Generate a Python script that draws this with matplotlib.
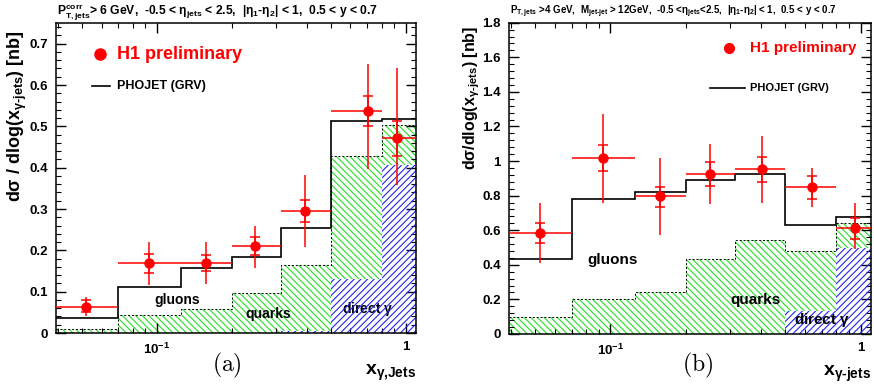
import numpy as np
import matplotlib
matplotlib.use('Agg')
import matplotlib.pyplot as plt
from matplotlib.ticker import MultipleLocator, LogLocator, NullFormatter

plt.rcParams['font.family'] = ['Liberation Sans', 'DejaVu Sans']
plt.rcParams['font.weight'] = 'bold'
plt.rcParams['mathtext.fontset'] = 'custom'
plt.rcParams['mathtext.rm'] = 'Liberation Sans:bold'
plt.rcParams['mathtext.it'] = 'Liberation Sans:bold'
plt.rcParams['mathtext.bf'] = 'Liberation Sans:bold'
plt.rcParams['mathtext.sf'] = 'Liberation Sans:bold'
plt.rcParams['hatch.linewidth'] = 0.8

# bin edges in x_gamma (same binning in both panels)
edges = [0.0394, 0.07, 0.125, 0.2, 0.315, 0.5, 0.8, 1.1]

# ---- panel (a) ----
a_phojet = [0.0355, 0.111, 0.157, 0.185, 0.254, 0.512, 0.519]
a_quarks = [0.009, 0.0436, 0.057, 0.096, 0.165, 0.428, 0.503]   # stacked top (quarks+direct)
a_direct = [0.0, 0.0, 0.0, 0.0, 0.005, 0.131, 0.407]
a_x = [0.0522, 0.093, 0.157, 0.249, 0.395, 0.706, 0.923]
a_y = [0.064, 0.169, 0.169, 0.211, 0.295, 0.537, 0.471]
a_stat_lo = [0.050, 0.146, 0.151, 0.188, 0.269, 0.500, 0.428]
a_stat_hi = [0.080, 0.190, 0.188, 0.232, 0.322, 0.574, 0.512]
a_tot_lo = [0.042, 0.115, 0.118, 0.158, 0.209, 0.397, 0.358]
a_tot_hi = [0.088, 0.221, 0.221, 0.260, 0.383, 0.650, 0.640]

# ---- panel (b) ----
b_phojet = [0.432, 0.779, 0.820, 0.891, 0.926, 0.631, 0.679]
b_quarks = [0.100, 0.204, 0.245, 0.434, 0.544, 0.482, 0.644]
b_direct = [0.0, 0.0, 0.0, 0.0, 0.0, 0.133, 0.500]
b_x = [0.0526, 0.0937, 0.158, 0.251, 0.402, 0.638, 0.953]
b_y = [0.586, 1.016, 0.795, 0.926, 0.953, 0.847, 0.612]
b_stat_lo = [0.525, 0.942, 0.736, 0.858, 0.881, 0.779, 0.550]
b_stat_hi = [0.640, 1.092, 0.852, 0.993, 1.026, 0.911, 0.670]
b_tot_lo = [0.410, 0.760, 0.573, 0.752, 0.760, 0.733, 0.490]
b_tot_hi = [0.760, 1.270, 1.016, 1.099, 1.146, 0.959, 0.760]

GREEN = '#22dd22'
BLUE = '#2222ee'
RED = '#ff0000'

fig = plt.figure(figsize=(8.74, 3.87), dpi=100)
axa = fig.add_axes([0.0641, 0.1395, 0.4119, 0.801])
axb = fig.add_axes([0.5824, 0.137, 0.4142, 0.8044])


def draw_panel(ax, phojet, quarks, direct, x, y, slo, shi, tlo, thi, ymax, ymaj, ymin):
    ax.set_xscale('log')
    ax.set_xlim(edges[0], edges[-1])
    ax.set_ylim(0, ymax)
    # quark (green) hatched area
    ax.stairs(quarks, edges, fill=True, facecolor='none', edgecolor=GREEN,
              hatch='\\\\\\\\\\', linewidth=0, zorder=1)
    ax.stairs(quarks, edges, baseline=None, color='black', linestyle=(0, (2, 2)),
              linewidth=0.7, zorder=2.5)
    # direct photon (blue) hatched area
    ax.stairs(direct, edges, fill=True, facecolor='white', edgecolor='white',
              linewidth=0, zorder=1.1)
    ax.stairs(direct, edges, fill=True, facecolor='none', edgecolor=BLUE,
              hatch='/////', linewidth=0, zorder=2)
    # PHOJET total
    ax.stairs(phojet, edges, baseline=None, color='black', linewidth=1.2, zorder=3)
    # data
    x = np.array(x)
    y = np.array(y)
    lo = np.array(edges[:-1])
    hi = np.array(edges[1:])
    ax.errorbar(x, y, xerr=[x - lo, hi - x], yerr=[y - np.array(tlo), np.array(thi) - y],
                fmt='o', color=RED, ecolor=RED, markersize=6.5, elinewidth=1.1,
                capsize=0, zorder=5)
    ax.errorbar(x, y, yerr=[y - np.array(slo), np.array(shi) - y], fmt='none',
                ecolor=RED, elinewidth=1.1, capsize=3.5, capthick=1.1, zorder=5)
    # ticks
    ax.yaxis.set_major_locator(MultipleLocator(ymaj))
    ax.yaxis.set_minor_locator(MultipleLocator(ymin))
    ax.xaxis.set_minor_locator(LogLocator(base=10, subs=np.arange(2, 10)))
    ax.xaxis.set_minor_formatter(NullFormatter())
    ax.set_xticks([0.1, 1])
    ax.set_xticklabels(['10$^{-1}$', '1'])
    ax.tick_params(which='both', direction='in', top=True, right=True)
    ax.tick_params(which='major', length=7, width=1, labelsize=9.5, pad=6)
    ax.tick_params(which='minor', length=3.5, width=0.8)
    for s in ax.spines.values():
        s.set_linewidth(1.1)


draw_panel(axa, a_phojet, a_quarks, a_direct, a_x, a_y, a_stat_lo, a_stat_hi,
           a_tot_lo, a_tot_hi, 0.75, 0.1, 0.02)
draw_panel(axb, b_phojet, b_quarks, b_direct, b_x, b_y, b_stat_lo, b_stat_hi,
           b_tot_lo, b_tot_hi, 1.8, 0.2, 0.04)
axa.set_yticks([0, 0.1, 0.2, 0.3, 0.4, 0.5, 0.6, 0.7])
axa.set_yticklabels(['0', '0.1', '0.2', '0.3', '0.4', '0.5', '0.6', '0.7'])
axb.set_yticks([0, 0.2, 0.4, 0.6, 0.8, 1.0, 1.2, 1.4, 1.6, 1.8])
axb.set_yticklabels(['0', '0.2', '0.4', '0.6', '0.8', '1', '1.2', '1.4', '1.6', '1.8'])

# legends
axa.plot([0.122], [0.9], 'o', color=RED, markersize=8, transform=axa.transAxes)
axa.text(0.169, 0.9, 'H1 preliminary', color=RED, fontsize=13, va='center',
         transform=axa.transAxes)
axa.plot([0.1, 0.15], [0.797, 0.797], color='black', lw=1.2, transform=axa.transAxes)
axa.text(0.169, 0.797, 'PHOJET (GRV)', color='black', fontsize=9, va='center',
         transform=axa.transAxes)

axb.plot([0.608], [0.919], 'o', color=RED, markersize=7, transform=axb.transAxes)
axb.text(0.666, 0.919, 'H1 preliminary', color=RED, fontsize=11, va='center',
         transform=axb.transAxes)
axb.plot([0.555, 0.652], [0.791, 0.791], color='black', lw=1.2, transform=axb.transAxes)
axb.text(0.666, 0.791, 'PHOJET (GRV)', color='black', fontsize=8, va='center',
         transform=axb.transAxes)

# component labels
axa.text(0.336, 0.106, 'gluons', fontsize=10, ha='center', va='center',
         transform=axa.transAxes, zorder=1.5)
axa.text(0.589, 0.061, 'quarks', fontsize=10, ha='center', va='center',
         transform=axa.transAxes, zorder=1.5)
axa.text(0.867, 0.077, r'direct $\gamma$', fontsize=10, ha='center', va='center',
         transform=axa.transAxes, zorder=1.5)
axb.text(0.287, 0.238, 'gluons', fontsize=11, ha='center', va='center',
         transform=axb.transAxes, zorder=6)
axb.text(0.68, 0.109, 'quarks', fontsize=11, ha='center', va='center',
         transform=axb.transAxes, zorder=6)
axb.text(0.865, 0.045, r'direct $\gamma$', fontsize=11, ha='center', va='center',
         transform=axb.transAxes, zorder=6)

# axis titles
axa.text(-0.106, 0.977, r'd$\sigma$ / dlog(x$_{\gamma\text{-jets}}$) [nb]', fontsize=13,
         rotation=90, ha='center', va='top', transform=axa.transAxes)
axb.text(-0.102, 0.99, r'd$\sigma$/dlog(x$_{\gamma\text{-jets}}$) [nb]', fontsize=11.5,
         rotation=90, ha='center', va='top', transform=axb.transAxes)
axa.text(1.0, -0.095, r'x$_{\gamma\text{,Jets}}$', fontsize=14, ha='right', va='top',
         transform=axa.transAxes)
axb.text(1.0, -0.095, r'x$_{\gamma\text{-jets}}$', fontsize=14, ha='right', va='top',
         transform=axb.transAxes)

# header cuts
fig.text(0.065, 0.969, r'P$_{T,jets}^{corr}$> 6 GeV,  -0.5 < $\eta_{jets}$ < 2.5,  |$\eta_1$-$\eta_2$| < 1,  0.5 < y < 0.7',
         fontsize=8.7, va='center')
fig.text(0.5835, 0.969, r'P$_{T,jets}$ >4 GeV,  M$_{\text{jet-jet}}$ > 12GeV,  -0.5 <$\eta_{jets}$<2.5,  |$\eta_1$-$\eta_2$| < 1,  0.5 < y < 0.7',
         fontsize=7, va='center')

# panel letters
fig.text(227 / 874, 1 - 365 / 387, r'$\mathrm{(a)}$', fontsize=17, ha='center', va='center',
         math_fontfamily='cm')
fig.text(698 / 874, 1 - 365 / 387, r'$\mathrm{(b)}$', fontsize=17, ha='center', va='center',
         math_fontfamily='cm')

fig.savefig('out.png', dpi=100)
